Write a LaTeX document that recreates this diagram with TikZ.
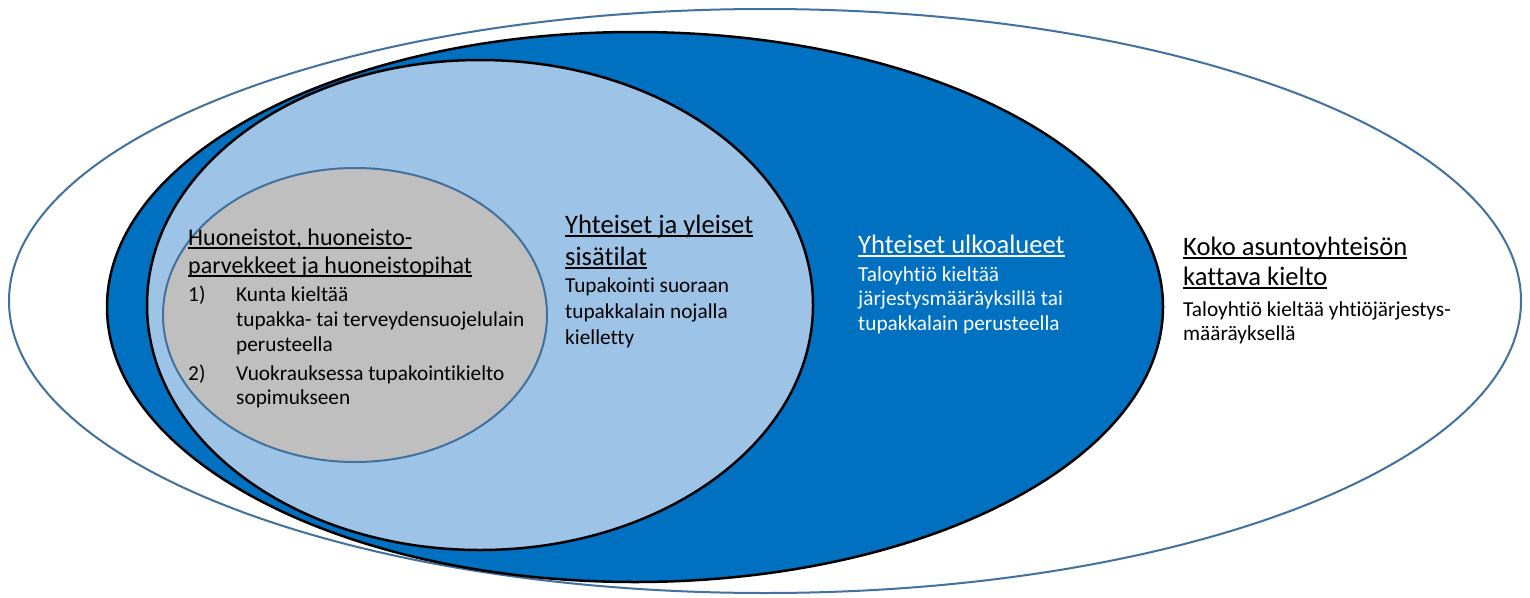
\documentclass[tikz,border=0pt]{standalone}
\usepackage{fontspec}
\setmainfont{Carlito}[Ligatures={NoCommon}]
\definecolor{outerline}{HTML}{41719C}
\definecolor{darkfill}{HTML}{0070C0}
\definecolor{lightfill}{HTML}{9DC3E6}
\definecolor{grayfill}{HTML}{BFBFBF}
\newcommand\ulx[1]{\setbox0\hbox{#1}\rlap{\rule[-4pt]{\wd0}{1.8pt}}\box0}
\tikzset{
  headtxt/.style={anchor=base west, inner sep=0pt, font=\fontsize{26.6pt}{30pt}\selectfont},
  gheadtxt/.style={anchor=base west, inner sep=0pt, font=\fontsize{24pt}{28pt}\selectfont},
  bodytxt/.style={anchor=base west, inner sep=0pt, font=\fontsize{21.3pt}{25pt}\selectfont},
  whitetxt/.style={text=white},
}
\begin{document}
\begin{tikzpicture}[x=1pt,y=-1pt]
\useasboundingbox (0,0) rectangle (1530,597);
\fill[white] (0,0) rectangle (1530,597);
% ellipses
\draw[outerline, line width=2pt, fill=white] (765,301) ellipse [x radius=756pt, y radius=292pt];
\draw[black, line width=2.5pt, fill=darkfill] (635,307) ellipse [x radius=528pt, y radius=275pt];
\draw[black, line width=2.5pt, fill=lightfill] (480,305) ellipse [x radius=333pt, y radius=245pt];
\draw[outerline, line width=2pt, fill=grayfill] (355,315) ellipse [x radius=192pt, y radius=147pt];
% gray block
\node[gheadtxt] (g1) at (188,245) {\ulx{Huoneistot, huoneisto-}};
\node[gheadtxt] (g2) at (188,273) {\ulx{parvekkeet ja huoneistopihat}};
\node[bodytxt] (g3n) at (188,301) {1)};
\node[bodytxt] (g3) at (236,301) {Kunta kieltää};
\node[bodytxt] (g4) at (236,326) {tupakka- tai terveydensuojelulain};
\node[bodytxt] (g5) at (236,351) {perusteella};
\node[bodytxt] (g6n) at (188,380) {2)};
\node[bodytxt] (g6) at (236,380) {Vuokrauksessa tupakointikielto};
\node[bodytxt] (g7) at (236,404) {sopimukseen};
% light block
\node[headtxt] (l1) at (565,233) {\ulx{Yhteiset ja yleiset}};
\node[headtxt] (l2) at (565,265) {\ulx{sisätilat}};
\node[bodytxt] (l3) at (565,292) {Tupakointi suoraan};
\node[bodytxt] (l4) at (565,318) {tupakkalain nojalla};
\node[bodytxt] (l5) at (565,344) {kielletty};
% dark block
\node[headtxt, whitetxt] (d1) at (858,253) {\ulx{Yhteiset ulkoalueet}};
\node[bodytxt, whitetxt] (d2) at (858,281) {Taloyhtiö kieltää};
\node[bodytxt, whitetxt] (d3) at (858,305) {järjestysmääräyksillä tai};
\node[bodytxt, whitetxt] (d4) at (858,330) {tupakkalain perusteella};
% outer block
\node[headtxt] (o1) at (1183,255) {\ulx{Koko asuntoyhteisön}};
\node[headtxt] (o2) at (1183,285) {\ulx{kattava kielto}};
\node[bodytxt] (o3) at (1183,316) {Taloyhtiö kieltää yhtiöjärjestys-};
\node[bodytxt] (o4) at (1183,340) {määräyksellä};
\end{tikzpicture}
\end{document}
